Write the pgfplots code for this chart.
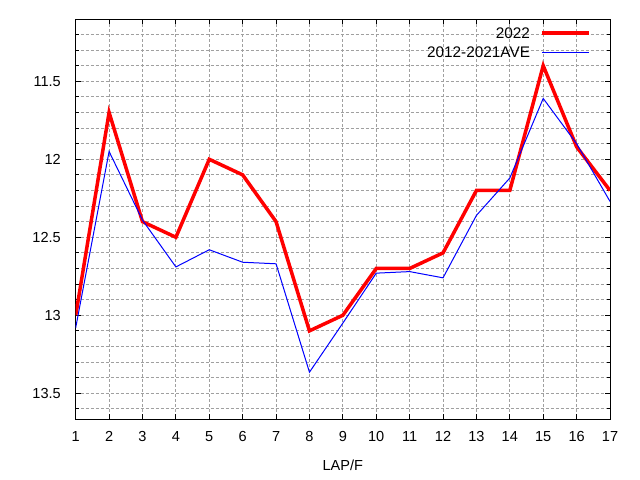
\documentclass[border=0pt]{standalone}
\usepackage{pgfplots}
\pgfplotsset{compat=1.18}
\usepackage{fontspec}
\setmainfont{Liberation Sans}
\definecolor{gridgray}{HTML}{A0A0A0}
\begin{document}
\begin{tikzpicture}[font=\fontsize{14.6}{17.5}\selectfont]
\path[use as bounding box] (0,0) rectangle (640bp,480bp);
\begin{axis}[
  at={(75.7bp,61bp)}, anchor=south west,
  scale only axis,
  width=534.3bp, height=399.7bp,
  xmin=1, xmax=17, ymin=11.1026, ymax=13.665,
  y dir=reverse,
  xtick={1,...,17},
  ytick={11.5,12,12.5,13,13.5},
  minor ytick={11.2,11.3,11.4,11.6,11.7,11.8,11.9,12.1,12.2,12.3,12.4,12.6,12.7,12.8,12.9,13.1,13.2,13.3,13.4,13.6},
  /pgf/number format/assume math mode=true,
  yticklabel style={/pgf/number format/fixed, inner sep=0pt, xshift=-14.7bp},
  xticklabel style={inner sep=0pt, yshift=-12bp},
  xlabel={LAP/F},
  xlabel style={at={(axis description cs:0.5,0)}, anchor=north, inner sep=0pt, yshift=-41bp},
  tick align=inside,
  major tick length=5bp, minor tick length=3bp,
  axis line style={line width=1bp, black},
  every tick/.style={black, line width=1bp},
  xmajorgrids, ymajorgrids, yminorgrids,
  major grid style={gridgray, line width=1bp, dash pattern=on 3bp off 2bp},
  minor grid style={gridgray, line width=1bp, dash pattern=on 3bp off 2bp},
  legend plot pos=right,
  legend cell align=right,
  legend style={draw=none, fill=none, at={(axis description cs:1,1)}, anchor=north east,
    xshift=-19.3bp, yshift=-7.5bp, inner sep=0pt, row sep=4.5bp,
    font=\fontsize{15.4}{18}\selectfont,
    nodes={inner sep=0pt, text height=11.5bp, text depth=3bp},
    /tikz/every odd column/.append style={column sep=10bp}},
  legend image code/.code={\draw[#1] (0bp,1.2bp) -- (47bp,1.2bp);},
]
\addplot[color=red, line width=3.5bp, line join=miter] coordinates {
(1,13.0) (2,11.7) (3,12.4) (4,12.5) (5,12.0) (6,12.1) (7,12.4) (8,13.1) (9,13.0)
(10,12.7) (11,12.7) (12,12.6) (13,12.2) (14,12.2) (15,11.4) (16,11.92) (17,12.2)};
\addlegendentry{2022}
\addplot[color=blue, line width=1bp] coordinates {
(1,13.08) (2,11.95) (3,12.39) (4,12.69) (5,12.58) (6,12.66) (7,12.67) (8,13.365) (9,13.05)
(10,12.73) (11,12.72) (12,12.76) (13,12.36) (14,12.12) (15,11.61) (16,11.9) (17,12.27)};
\addlegendentry{2012-2021AVE}
\end{axis}
\end{tikzpicture}
\end{document}
